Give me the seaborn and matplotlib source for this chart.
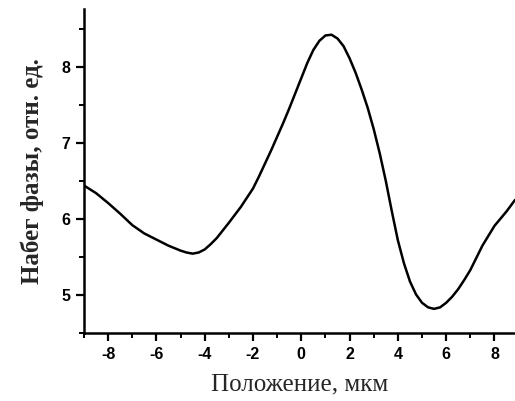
import matplotlib
matplotlib.use("Agg")
import matplotlib.pyplot as plt
from matplotlib.ticker import MultipleLocator
import seaborn as sns
import pandas as pd

position = [-9.0, -8.5, -8.0, -7.5, -7.0, -6.5, -6.0, -5.5, -5.0, -4.75,
            -4.5, -4.25, -4.0, -3.75, -3.5, -3.0, -2.5, -2.0, -1.75, -1.5,
            -1.25, -1.0, -0.75, -0.5, -0.25, 0.0, 0.25, 0.5, 0.75, 1.0,
            1.25, 1.5, 1.75, 2.0, 2.25, 2.5, 2.75, 3.0, 3.25, 3.5,
            3.75, 4.0, 4.25, 4.5, 4.75, 5.0, 5.25, 5.5, 5.75, 6.0,
            6.25, 6.5, 6.75, 7.0, 7.5, 8.0, 8.5, 8.85]
phase = [6.44, 6.34, 6.21, 6.07, 5.92, 5.81, 5.73, 5.65, 5.585, 5.56,
         5.545, 5.56, 5.60, 5.67, 5.75, 5.95, 6.16, 6.40, 6.56, 6.73,
         6.90, 7.08, 7.26, 7.45, 7.65, 7.85, 8.05, 8.22, 8.34, 8.41,
         8.42, 8.37, 8.27, 8.11, 7.92, 7.70, 7.46, 7.18, 6.86, 6.50,
         6.10, 5.72, 5.42, 5.18, 5.01, 4.90, 4.84, 4.82, 4.84, 4.90,
         4.98, 5.08, 5.20, 5.33, 5.65, 5.91, 6.10, 6.25]

x_ticks = [-8, -6, -4, -2, 0, 2, 4, 6, 8]
y_ticks = [5, 6, 7, 8]

df = pd.DataFrame({"x": position, "y": phase})

sns.set_theme(style="ticks")
plt.rcParams["font.family"] = ["Liberation Sans", "DejaVu Sans"]

fig = plt.figure(figsize=(5.15, 4.01), dpi=100)
ax = fig.add_axes([0.163, 0.169, 0.837, 0.809])

sns.lineplot(data=df, x="x", y="y", ax=ax, color="black", linewidth=1.8,
             sort=False, estimator=None)

ax.set_xlim(-9, 8.85)
ax.set_ylim(4.5, 8.76)
ax.set_xticks(x_ticks)
ax.set_yticks(y_ticks)
ax.set_xticklabels([str(v) for v in x_ticks])
ax.set_yticklabels([str(v) for v in y_ticks])
ax.xaxis.set_minor_locator(MultipleLocator(1))
ax.yaxis.set_minor_locator(MultipleLocator(0.5))

for s in ["top", "right"]:
    ax.spines[s].set_visible(False)
for s in ["left", "bottom"]:
    ax.spines[s].set_linewidth(1.8)
    ax.spines[s].set_color("black")

ax.tick_params(which="major", direction="out", length=6, width=1.6,
               colors="black", labelsize=11.5, pad=4)
ax.tick_params(which="minor", direction="out", length=3.5, width=1.4,
               colors="black")
for lab in ax.get_xticklabels() + ax.get_yticklabels():
    lab.set_fontweight("bold")

ax.set_xlabel("Положение, мкм", fontsize=18,
              family=["Liberation Serif", "DejaVu Serif"], labelpad=8)
ax.set_ylabel("Набег фазы, отн. ед.", fontsize=18, fontweight="bold",
              family=["Liberation Serif", "DejaVu Serif"], labelpad=12)

fig.savefig("out.png", dpi=100)
